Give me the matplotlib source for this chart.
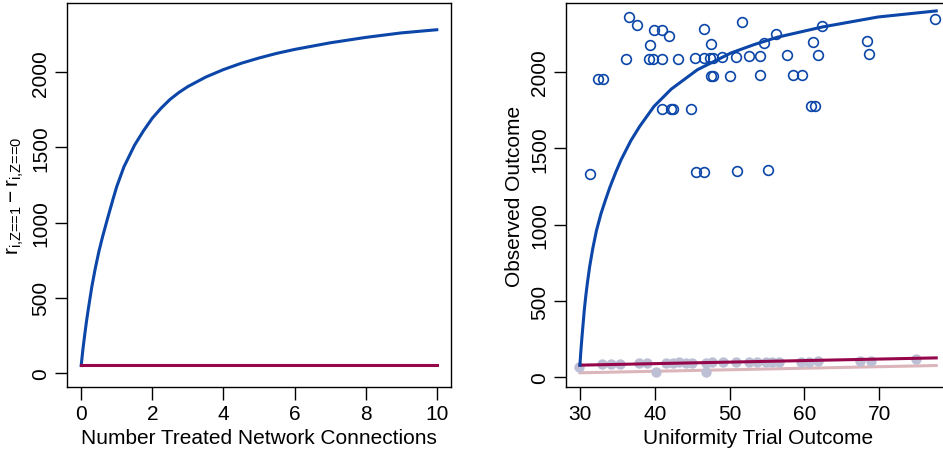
import matplotlib.pyplot as plt

plt.rcParams['font.family'] = ['Liberation Sans', 'DejaVu Sans']
plt.rcParams['mathtext.fontset'] = 'custom'
plt.rcParams['mathtext.rm'] = 'Liberation Sans'
plt.rcParams['mathtext.it'] = 'Liberation Sans'

BLUE = '#0b46a8'
RED = '#95064a'
PINK = '#dcb5bb'
GREY = '#bdc0d4'

# left panel: effect by number of treated network connections
n_treated = [0, 0.05, 0.1, 0.15, 0.2, 0.3, 0.4, 0.5, 0.6, 0.75, 0.9, 1.0,
             1.2, 1.5, 1.75, 2.0, 2.25, 2.5, 2.75, 3.0, 3.5, 4.0, 4.5, 5.0,
             5.5, 6.0, 7.0, 8.0, 9.0, 10.0]
effect_spill = [50, 160, 255, 345, 425, 575, 700, 810, 905, 1035, 1160, 1240,
                1370, 1515, 1610, 1695, 1762, 1820, 1866, 1905, 1968, 2018,
                2060, 2095, 2126, 2152, 2196, 2232, 2262, 2283]
n_range = [0, 10]
effect_const = [50, 50]

# right panel: observed outcome vs uniformity trial outcome
treated_x = [36.5, 37.6, 39.9, 40.9, 41.9, 39.4, 36.1, 39.2, 39.8, 40.9,
             43.1, 45.4, 46.6, 47.4, 47.8, 49.0, 50.9, 52.6, 46.6, 51.6,
             47.5, 32.4, 33.1, 47.5, 47.8, 50.0, 31.3, 41.0, 42.2, 42.5,
             44.8, 45.5, 46.6, 51.0, 55.1, 60.9, 61.4, 54.6, 56.2, 54.0,
             54.1, 57.7, 58.5, 59.7, 61.1, 62.4, 61.8, 68.4, 68.6, 77.4]
treated_y = [2360, 2310, 2277, 2277, 2236, 2174, 2085, 2087, 2087, 2087,
             2087, 2094, 2094, 2094, 2094, 2098, 2100, 2105, 2284, 2325,
             2181, 1956, 1956, 1971, 1971, 1974, 1330, 1757, 1757, 1757,
             1757, 1347, 1347, 1352, 1356, 1777, 1777, 2190, 2251, 2105,
             1978, 2109, 1982, 1982, 2196, 2301, 2113, 2203, 2120, 2349]

control_x = [29.9, 33.0, 34.1, 35.3, 37.9, 39.0, 40.2, 41.5, 42.4, 43.3,
             44.2, 45.0, 46.8, 46.8, 47.7, 49.1, 50.8, 52.6, 53.7, 54.9,
             55.7, 56.6, 59.5, 60.6, 61.8, 67.4, 68.9, 74.9]
control_y = [68, 85, 90, 90, 96, 96, 35, 96, 96, 98,
             96, 96, 37, 96, 98, 100, 98, 98, 98, 98,
             98, 98, 100, 103, 105, 110, 108, 118]

curve_x = [30, 30.1, 30.2, 30.3, 30.45, 30.6, 30.8, 31.0, 31.3, 31.7, 32.2,
           32.8, 33.4, 34.0, 34.8, 35.5, 36.8, 38.0, 39.9, 42.2, 45.7, 50.2,
           53.3, 56.4, 62.4, 69.8, 77.6]
curve_y = [80, 155, 220, 280, 365, 450, 540, 620, 725, 840, 960,
           1070, 1160, 1245, 1345, 1425, 1550, 1645, 1775, 1888, 2015, 2125,
           2180, 2228, 2295, 2360, 2400]

line_x = [30, 77.6]
identity_y = [30, 77.6]
shift_y = [80, 127.6]

fig = plt.figure(figsize=(9.43, 4.52), dpi=100)
ax1 = fig.add_axes([0.071, 0.1416, 0.4073, 0.8496])
ax2 = fig.add_axes([0.5999, 0.1416, 0.408, 0.8496])

ax1.plot(n_treated, effect_spill, color=BLUE, lw=2.2)
ax1.plot(n_range, effect_const, color=RED, lw=2.2)
ax1.set_xlim(-0.4, 10.4)
ax1.set_ylim(-93, 2461)
ax1.set_xticks([0, 2, 4, 6, 8, 10])
ax1.set_yticks([0, 500, 1000, 1500, 2000])
ax1.set_xlabel('Number Treated Network Connections', fontsize=15, labelpad=4)
ax1.set_ylabel(r'$\mathregular{r_{\text{i,Z==1}} - r_{\text{i,Z==0}}}$',
               fontsize=15, labelpad=4)

ax2.plot(line_x, identity_y, color=PINK, lw=2.2, zorder=1)
ax2.plot(control_x, control_y, 'o', color=GREY, ms=7.5, mec='none', zorder=2)
ax2.plot(line_x, shift_y, color=RED, lw=2.2, zorder=3)
ax2.plot(treated_x, treated_y, 'o', mfc='none', mec=BLUE, mew=1.2, ms=7,
         zorder=4)
ax2.plot(curve_x, curve_y, color=BLUE, lw=2.2, zorder=5)
ax2.set_xlim(28.1, 79.5)
ax2.set_ylim(-63, 2452)
ax2.set_xticks([30, 40, 50, 60, 70])
ax2.set_yticks([0, 500, 1000, 1500, 2000])
ax2.set_xlabel('Uniformity Trial Outcome', fontsize=15, labelpad=4)
ax2.set_ylabel('Observed Outcome', fontsize=15, labelpad=4)

for ax in (ax1, ax2):
    for side in ax.spines.values():
        side.set_linewidth(1.0)
    ax.tick_params(labelsize=15, length=9, width=1.0, pad=3)
    for lab in ax.get_yticklabels():
        lab.set_rotation(90)
        lab.set_va('center')

fig.savefig('out.png', dpi=100)
